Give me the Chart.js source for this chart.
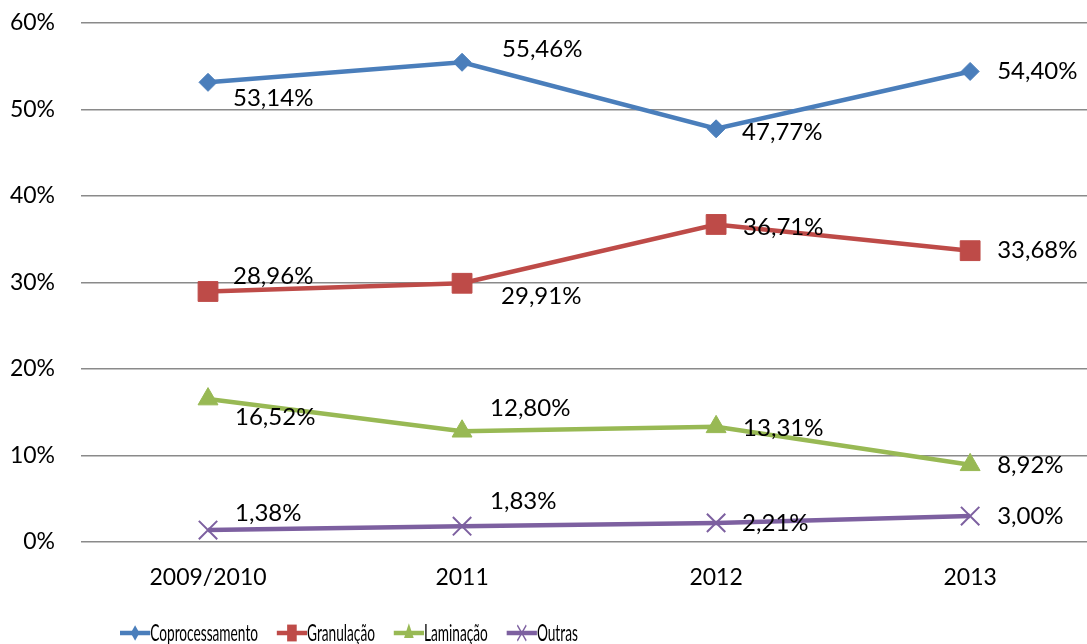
<!DOCTYPE html>
<html>
<head>
<meta charset="utf-8">
<script src="https://cdn.jsdelivr.net/npm/chart.js@4/dist/chart.umd.min.js"></script>
<style>
  html, body { margin: 0; padding: 0; background: #fff; overflow: hidden; }
  canvas { display: block; }
</style>
</head>
<body>
<canvas id="c" width="1087" height="644"></canvas>
<script>
// ---- data ----
const categories = ['2009/2010', '2011', '2012', '2013'];
const seriesNames = ['Coprocessamento', 'Granulação', 'Laminação', 'Outras'];
const coprocessamento = [53.14, 55.46, 47.77, 54.40];
const granulacao = [28.96, 29.91, 36.71, 33.68];
const laminacao = [16.52, 12.80, 13.31, 8.92];
const outras = [1.38, 1.83, 2.21, 3.00];
const yTicks = [0, 10, 20, 30, 40, 50, 60];

// ---- styles ----
const colors = ['#4a7ebb', '#be4b48', '#98b954', '#7d60a0'];
const pointStyles = ['rectRot', 'rect', 'triangle', 'crossRot'];
const pointRadii = [9, 14, 11.5, 13];
// label offsets (dx, dy) relative to each point, per series
const labelOffsets = [
  [[25, 16], [40, -13], [26, 3], [27, 0]],
  [[25, -15], [39, 13], [27, 3], [27, 0]],
  [[27, 18], [28, -23], [27, 1], [27, 0]],
  [[27, -17], [28, -25], [26, 0], [27, 0]]
];
// visible x window: half a category on the left, the plot is cut at the right edge
const xMin = -0.5, xMax = 3.46;
const FONT = 'Lato, "Open Sans", sans-serif';

const seriesValues = [coprocessamento, granulacao, laminacao, outras];
const datasets = seriesNames.map((name, i) => ({
  label: name,
  data: seriesValues[i].map((v, j) => ({ x: j, y: v })),
  borderColor: colors[i],
  backgroundColor: colors[i],
  borderWidth: 4.5,
  pointStyle: pointStyles[i],
  pointRadius: pointRadii[i],
  pointHoverRadius: pointRadii[i],
  pointBorderColor: colors[i],
  pointBackgroundColor: colors[i],
  pointBorderWidth: i === 3 ? 2 : 1,
  tension: 0,
  clip: false
}));

function fmt(v) { return v.toFixed(2).replace('.', ',') + '%'; }

const dataLabels = {
  id: 'dataLabels',
  afterDatasetsDraw(chart) {
    const ctx = chart.ctx;
    ctx.save();
    ctx.font = '24px ' + FONT;
    ctx.fillStyle = '#000';
    ctx.textAlign = 'left';
    ctx.textBaseline = 'middle';
    chart.data.datasets.forEach((ds, i) => {
      const meta = chart.getDatasetMeta(i);
      meta.data.forEach((pt, j) => {
        const off = labelOffsets[i][j];
        ctx.fillText(fmt(ds.data[j].y), pt.x + off[0], pt.y + off[1]);
      });
    });
    ctx.restore();
  }
};

function marker(ctx, style, x, y, r, color) {
  ctx.fillStyle = color; ctx.strokeStyle = color;
  ctx.beginPath();
  if (style === 'rectRot') {
    ctx.moveTo(x, y - r); ctx.lineTo(x + r, y); ctx.lineTo(x, y + r); ctx.lineTo(x - r, y); ctx.closePath(); ctx.fill();
  } else if (style === 'rect') {
    const s = r * Math.SQRT1_2; ctx.rect(x - s, y - s, 2 * s, 2 * s); ctx.fill();
  } else if (style === 'triangle') {
    ctx.moveTo(x, y - r);
    ctx.lineTo(x + r * Math.sin(2 * Math.PI / 3), y - r * Math.cos(2 * Math.PI / 3));
    ctx.lineTo(x + r * Math.sin(4 * Math.PI / 3), y - r * Math.cos(4 * Math.PI / 3));
    ctx.closePath(); ctx.fill();
  } else {
    const d = r * Math.SQRT1_2;
    ctx.lineWidth = 2;
    ctx.moveTo(x - d, y - d); ctx.lineTo(x + d, y + d);
    ctx.moveTo(x + d, y - d); ctx.lineTo(x - d, y + d); ctx.stroke();
  }
}

const bottomLegend = {
  id: 'bottomLegend',
  afterDraw(chart) {
    const ctx = chart.ctx;
    const sx = 0.57;
    const y = 633;
    ctx.save();
    ctx.translate(120, 0);
    ctx.scale(sx, 1);
    ctx.font = '24px ' + FONT;
    ctx.textBaseline = 'middle';
    ctx.textAlign = 'left';
    let x = 0;
    chart.data.datasets.forEach((ds, i) => {
      const lw = 53;
      ctx.strokeStyle = colors[i];
      ctx.lineWidth = 4.5;
      ctx.beginPath(); ctx.moveTo(x, y); ctx.lineTo(x + lw, y); ctx.stroke();
      marker(ctx, pointStyles[i], x + lw / 2, y, pointRadii[i] * 0.85, colors[i]);
      x += lw;
      ctx.fillStyle = '#000';
      ctx.fillText(ds.label, x, y);
      x += ctx.measureText(ds.label).width + 33;
    });
    ctx.restore();
  }
};

new Chart(document.getElementById('c'), {
  type: 'line',
  data: { datasets },
  options: {
    responsive: false,
    animation: false,
    devicePixelRatio: 1,
    layout: { autoPadding: false, padding: { left: 9, right: 0, top: 23, bottom: 42 } },
    plugins: { legend: { display: false }, tooltip: { enabled: false } },
    scales: {
      x: {
        type: 'linear',
        min: xMin, max: xMax,
        afterBuildTicks(scale) { scale.ticks = categories.map((c, i) => ({ value: i })); },
        grid: { display: false, drawTicks: false },
        border: { display: false },
        ticks: { color: '#000', font: { family: FONT, size: 23 }, padding: 22, maxRotation: 0, autoSkip: false,
                 callback: v => categories[v] },
        afterFit(scale) { scale.height = 60; scale.paddingLeft = 0; scale.paddingRight = 0; }
      },
      y: {
        min: 0, max: 60,
        afterBuildTicks(scale) { scale.ticks = yTicks.map(v => ({ value: v })); },
        grid: { color: '#8a8a8a', lineWidth: 1.5, drawTicks: false },
        border: { display: false },
        ticks: { color: '#000', font: { family: FONT, size: 23 }, padding: 26, callback: v => v + '%' },
        afterFit(scale) { scale.width = 72; scale.paddingTop = 0; scale.paddingBottom = 0; }
      }
    }
  },
  plugins: [dataLabels, bottomLegend]
});
</script>
</body>
</html>
